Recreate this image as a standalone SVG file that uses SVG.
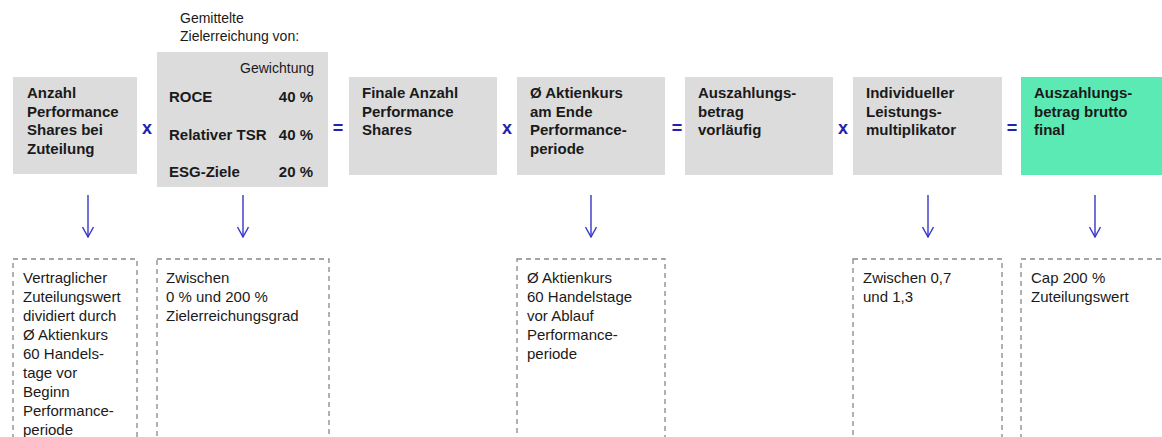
<svg xmlns="http://www.w3.org/2000/svg" width="1162" height="437" viewBox="0 0 1162 437">
<style>
.box{fill:#dcdcdc}
.final{fill:#5beab4}
.b{font-family:"Liberation Sans",Arial,sans-serif;font-size:15px;font-weight:bold;fill:#1a1a1a}
.r{font-family:"Liberation Sans",Arial,sans-serif;font-size:15px;fill:#1a1a1a}
.h{font-family:"Liberation Sans",Arial,sans-serif;font-size:14px;fill:#1a1a1a}
.op{font-family:"Liberation Sans",Arial,sans-serif;font-size:18px;font-weight:bold;fill:#2222b0;text-anchor:middle}
.dash{fill:none;stroke:#888;stroke-width:1.3;stroke-dasharray:5,4}
.arr{stroke:#3535c8;stroke-width:1.4;fill:none}
</style>
<defs>
<marker id="ah" viewBox="0 0 12 12" refX="11" refY="6" markerWidth="12" markerHeight="12" markerUnits="userSpaceOnUse" orient="auto">
<path d="M1,0.5 L11,6 L1,11.5" fill="none" stroke="#3535c8" stroke-width="1.4"/>
</marker>
</defs>
<rect width="1162" height="437" fill="#fff"/>

<g id="node1">
<rect class="box" x="13" y="77" width="124" height="97"/>
<text class="b" x="27" y="98">Anzahl</text>
<text class="b" x="27" y="116.5">Performance</text>
<text class="b" x="27" y="135">Shares bei</text>
<text class="b" x="27" y="153.5">Zuteilung</text>
</g>

<g id="node2">
<text class="h" x="180" y="23">Gemittelte</text>
<text class="h" x="180" y="41">Zielerreichung  von:</text>
<rect class="box" x="157" y="52" width="171" height="135"/>
<text class="h" x="314" y="73" text-anchor="end">Gewichtung</text>
<text class="b" x="169" y="102">ROCE</text>
<text class="b" x="313" y="102" text-anchor="end">40 %</text>
<text class="b" x="169" y="140">Relativer TSR</text>
<text class="b" x="313" y="140" text-anchor="end">40 %</text>
<text class="b" x="169" y="177">ESG-Ziele</text>
<text class="b" x="313" y="177" text-anchor="end">20 %</text>
</g>

<g id="node3">
<rect class="box" x="349" y="77" width="148" height="98"/>
<text class="b" x="362" y="98">Finale Anzahl</text>
<text class="b" x="362" y="116.5">Performance</text>
<text class="b" x="362" y="135">Shares</text>
</g>

<g id="node4">
<rect class="box" x="517" y="77" width="148" height="98"/>
<text class="b" x="530" y="98">Ø Aktienkurs</text>
<text class="b" x="530" y="116.5">am Ende</text>
<text class="b" x="530" y="135">Performance-</text>
<text class="b" x="530" y="153.5">periode</text>
</g>

<g id="node5">
<rect class="box" x="685" y="77" width="148" height="98"/>
<text class="b" x="698" y="98">Auszahlungs-</text>
<text class="b" x="698" y="116.5">betrag</text>
<text class="b" x="698" y="135">vorläufig</text>
</g>

<g id="node6">
<rect class="box" x="853" y="77" width="149" height="98"/>
<text class="b" x="866" y="98">Individueller</text>
<text class="b" x="866" y="116.5">Leistungs-</text>
<text class="b" x="866" y="135">multiplikator</text>
</g>

<g id="node7">
<rect class="final" x="1021" y="77" width="141" height="98"/>
<text class="b" x="1034" y="98">Auszahlungs-</text>
<text class="b" x="1034" y="116.5">betrag brutto</text>
<text class="b" x="1034" y="135">final</text>
</g>

<g id="operators">
<text class="op" x="147" y="134">x</text>
<text class="op" x="338" y="134">=</text>
<text class="op" x="507" y="134">x</text>
<text class="op" x="677" y="134">=</text>
<text class="op" x="843" y="134">x</text>
<text class="op" x="1012" y="134">=</text>
</g>

<g id="connectors">
<line class="arr" x1="88" y1="195" x2="88" y2="237" marker-end="url(#ah)"/>
<line class="arr" x1="243" y1="195" x2="243" y2="237" marker-end="url(#ah)"/>
<line class="arr" x1="591" y1="195" x2="591" y2="237" marker-end="url(#ah)"/>
<line class="arr" x1="928" y1="195" x2="928" y2="237" marker-end="url(#ah)"/>
<line class="arr" x1="1095" y1="195" x2="1095" y2="237" marker-end="url(#ah)"/>
</g>

<g id="note1">
<rect class="dash" x="13" y="259" width="124" height="200"/>
<text class="r" x="23" y="283">Vertraglicher</text>
<text class="r" x="23" y="302">Zuteilungswert</text>
<text class="r" x="23" y="321">dividiert  durch</text>
<text class="r" x="23" y="340">Ø Aktienkurs</text>
<text class="r" x="23" y="359">60 Handels-</text>
<text class="r" x="23" y="378">tage vor</text>
<text class="r" x="23" y="397">Beginn</text>
<text class="r" x="23" y="416">Performance-</text>
<text class="r" x="23" y="435">periode</text>
</g>

<g id="note2">
<rect class="dash" x="157" y="259" width="172" height="200"/>
<text class="r" x="166" y="283">Zwischen</text>
<text class="r" x="166" y="302">0 % und 200 %</text>
<text class="r" x="166" y="321">Zielerreichungsgrad</text>
</g>

<g id="note4">
<rect class="dash" x="517" y="259" width="148" height="200"/>
<text class="r" x="527" y="283">Ø Aktienkurs</text>
<text class="r" x="527" y="302">60 Handelstage</text>
<text class="r" x="527" y="321">vor Ablauf</text>
<text class="r" x="527" y="340">Performance-</text>
<text class="r" x="527" y="359">periode</text>
</g>

<g id="note6">
<rect class="dash" x="853" y="259" width="149" height="200"/>
<text class="r" x="863" y="283">Zwischen 0,7</text>
<text class="r" x="863" y="302">und 1,3</text>
</g>

<g id="note7">
<rect class="dash" x="1021" y="259" width="160" height="200"/>
<text class="r" x="1031" y="283">Cap 200 %</text>
<text class="r" x="1031" y="302">Zuteilungswert</text>
</g>
</svg>
